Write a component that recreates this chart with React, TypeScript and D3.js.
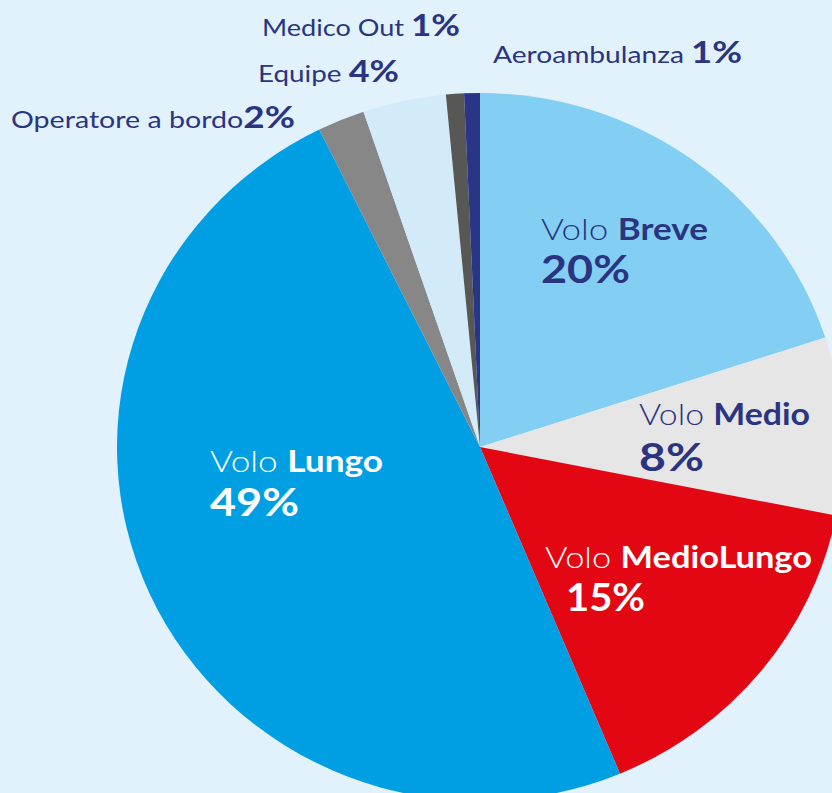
import React from "react";
import * as d3 from "d3";

const categories = ["Volo Breve", "Volo Medio", "Volo MedioLungo", "Volo Lungo", "Operatore a bordo", "Equipe", "Medico Out", "Aeroambulanza"];
const sliceValues = [20.0, 8.1, 15.6, 49.0, 2.1, 3.7, 0.8, 0.7];
const labelPct = ["20%", "8%", "15%", "49%", "2%", "4%", "1%", "1%"];
const colors = ["#82CFF3", "#E6E6E6", "#E30613", "#009FE3", "#878787", "#D3EAF9", "#575756", "#2A3586"];

const W = 832, H = 793;
const CX = 480, CY = 447, R = 354, SX = 363 / 354;
const NAVY = "#2B3481";
const FONT = "Lato, 'Noto Sans', sans-serif";

// big in-slice labels: [index, x, line1 baseline, line1 width, pct x, pct baseline, pct width, color]
const inner = [
  { i: 0, x: 541, y1: 240, w1: 167, px: 541, py: 283, pw: 89, color: NAVY },
  { i: 1, x: 639, y1: 425, w1: 171, px: 639, py: 471, pw: 65, color: NAVY },
  { i: 2, x: 545, y1: 568, w1: 267, px: 566, py: 611, pw: 79, color: "#FFFFFF" },
  { i: 3, x: 210, y1: 472, w1: 173, px: 210, py: 516, pw: 89, color: "#FFFFFF" },
];

// outside labels
const outer = [
  { i: 4, x: 11, y: 128, w: 284, space: "" },
  { i: 5, x: 258, y: 82, w: 141, space: " " },
  { i: 6, x: 262, y: 36, w: 198, space: " " },
  { i: 7, x: 493, y: 63, w: 249, space: " " },
];

export default function App() {
  const pie = d3.pie<number>().sort(null).value((d) => d)(sliceValues);
  const arc = d3.arc<d3.PieArcDatum<number>>().innerRadius(0).outerRadius(R);
  return (
    <svg width={W} height={H} style={{ position: "absolute", left: 0, top: 0 }} fontFamily={FONT}>
      <rect width={W} height={H} fill="#E1F2FD" />
      <g transform={`translate(${CX},${CY}) scale(${SX},1)`}>
        {pie.map((p, k) => (
          <path key={k} d={arc(p) || ""} fill={colors[k]} />
        ))}
      </g>
      {inner.map((l) => {
        const name = categories[l.i].replace("Volo ", "");
        return (
          <g key={l.i} fill={l.color}>
            <text x={l.x} y={l.y1} fontSize={30} textLength={l.w1} lengthAdjust="spacingAndGlyphs">
              <tspan fontWeight={300}>Volo </tspan>
              <tspan fontWeight={700}>{name}</tspan>
            </text>
            <text x={l.px} y={l.py} fontSize={39} fontWeight={700} textLength={l.pw} lengthAdjust="spacingAndGlyphs">
              {labelPct[l.i]}
            </text>
          </g>
        );
      })}
      {outer.map((l) => (
        <text key={l.i} x={l.x} y={l.y} fill={NAVY} fontSize={24} textLength={l.w} lengthAdjust="spacingAndGlyphs">
          <tspan fontWeight={400}>{categories[l.i] + l.space}</tspan>
          <tspan fontWeight={700} fontSize={31}>{labelPct[l.i]}</tspan>
        </text>
      ))}
    </svg>
  );
}
